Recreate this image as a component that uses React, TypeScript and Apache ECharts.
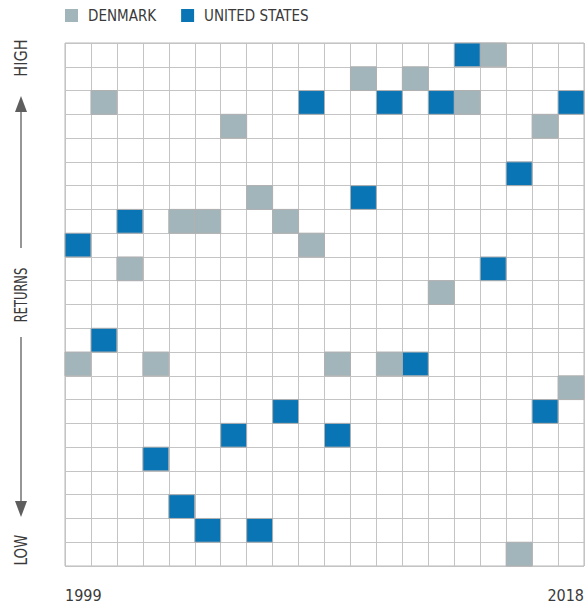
import React, { useEffect, useRef } from "react";
import * as echarts from "echarts";

const years = [
  "1999", "2000", "2001", "2002", "2003", "2004", "2005", "2006", "2007", "2008",
  "2009", "2010", "2011", "2012", "2013", "2014", "2015", "2016", "2017", "2018",
];
// rank of returns per year, 1 = highest of 22
const denmarkRank = [14, 3, 10, 14, 8, 8, 4, 7, 8, 9, 14, 2, 14, 2, 11, 3, 1, 22, 4, 15];
const usRank = [9, 13, 8, 18, 20, 21, 17, 21, 16, 3, 17, 7, 3, 14, 3, 1, 10, 6, 16, 3];
const rankCount = 22;

const FONT = "'DejaVu Sans Condensed', 'Liberation Sans Narrow', 'Roboto', sans-serif";
const TEXT_COLOR = "#3a3a3a";
const ARROW_COLOR = "#5e5e5e";

const cellRender = (params: any, api: any) => {
  const i = api.value(0);
  const r = api.value(1);
  const p0 = api.coord([i, r - 1]);
  const p1 = api.coord([i + 1, r]);
  return {
    type: "rect",
    shape: {
      x: Math.min(p0[0], p1[0]),
      y: Math.min(p0[1], p1[1]),
      width: Math.abs(p1[0] - p0[0]),
      height: Math.abs(p1[1] - p0[1]),
    },
    style: { fill: api.visual("color"), stroke: "#b0b0b0", lineWidth: 1 },
  };
};

const sideText = (text: string, y: number, fontSize: number, scaleX: number) => ({
  type: "text",
  x: 21,
  y,
  rotation: Math.PI / 2,
  scaleX,
  style: {
    text,
    fontFamily: FONT,
    fontSize,
    fill: TEXT_COLOR,
    align: "center",
    verticalAlign: "middle",
  },
});

export default function App() {
  const ref = useRef<HTMLDivElement>(null);
  useEffect(() => {
    document.body.style.margin = "0";
    if (!ref.current) return;
    const chart = echarts.init(ref.current, undefined, { renderer: "svg" });
    chart.setOption({
      animation: false,
      backgroundColor: "#ffffff",
      textStyle: { fontFamily: FONT },
      legend: {
        left: 65,
        top: 8,
        padding: 0,
        icon: "rect",
        itemWidth: 13,
        itemHeight: 13,
        itemGap: 25,
        textStyle: { fontFamily: FONT, fontSize: 15, color: TEXT_COLOR, padding: [0, 0, 0, 5] },
        data: ["DENMARK", "UNITED STATES"],
      },
      grid: {
        left: 65,
        top: 43,
        width: 520,
        height: 523,
        show: true,
        borderColor: "#b8b8b8",
        borderWidth: 1,
        containLabel: false,
      },
      xAxis: {
        type: "value",
        min: 0,
        max: years.length,
        interval: 1,
        axisLine: { show: false },
        axisTick: { show: false },
        splitLine: { show: true, lineStyle: { color: "#c4c4c4", width: 1 } },
        axisLabel: {
          show: true,
          margin: 21,
          fontFamily: FONT,
          fontSize: 16,
          color: TEXT_COLOR,
          showMinLabel: true,
          showMaxLabel: true,
          alignMinLabel: "left",
          alignMaxLabel: "right",
          formatter: (v: number) =>
            v === 0 ? years[0] : v === years.length ? years[years.length - 1] : "",
        },
      },
      yAxis: {
        type: "value",
        min: 0,
        max: rankCount,
        interval: 1,
        inverse: true,
        axisLine: { show: false },
        axisTick: { show: false },
        axisLabel: { show: false },
        splitLine: { show: true, lineStyle: { color: "#c4c4c4", width: 1 } },
      },
      series: [
        {
          name: "DENMARK",
          type: "custom",
          itemStyle: { color: "#a2b5bb" },
          renderItem: cellRender,
          data: denmarkRank.map((r, i) => [i, r]),
        },
        {
          name: "UNITED STATES",
          type: "custom",
          itemStyle: { color: "#0a75b5" },
          renderItem: cellRender,
          data: usRank.map((r, i) => [i, r]),
        },
      ],
      graphic: [
        sideText("HIGH", 58, 17, 0.95),
        sideText("RETURNS", 295, 17, 0.75),
        sideText("LOW", 550, 17, 0.88),
        {
          type: "line",
          shape: { x1: 21, y1: 110, x2: 21, y2: 248 },
          style: { stroke: ARROW_COLOR, lineWidth: 1.3 },
        },
        {
          type: "polygon",
          shape: { points: [[21, 96], [15, 112], [27, 112]] },
          style: { fill: ARROW_COLOR },
        },
        {
          type: "line",
          shape: { x1: 21, y1: 337, x2: 21, y2: 503 },
          style: { stroke: ARROW_COLOR, lineWidth: 1.3 },
        },
        {
          type: "polygon",
          shape: { points: [[21, 517], [15, 501], [27, 501]] },
          style: { fill: ARROW_COLOR },
        },
      ],
    });
    return () => chart.dispose();
  }, []);
  return <div ref={ref} style={{ width: 587, height: 607 }} />;
}
